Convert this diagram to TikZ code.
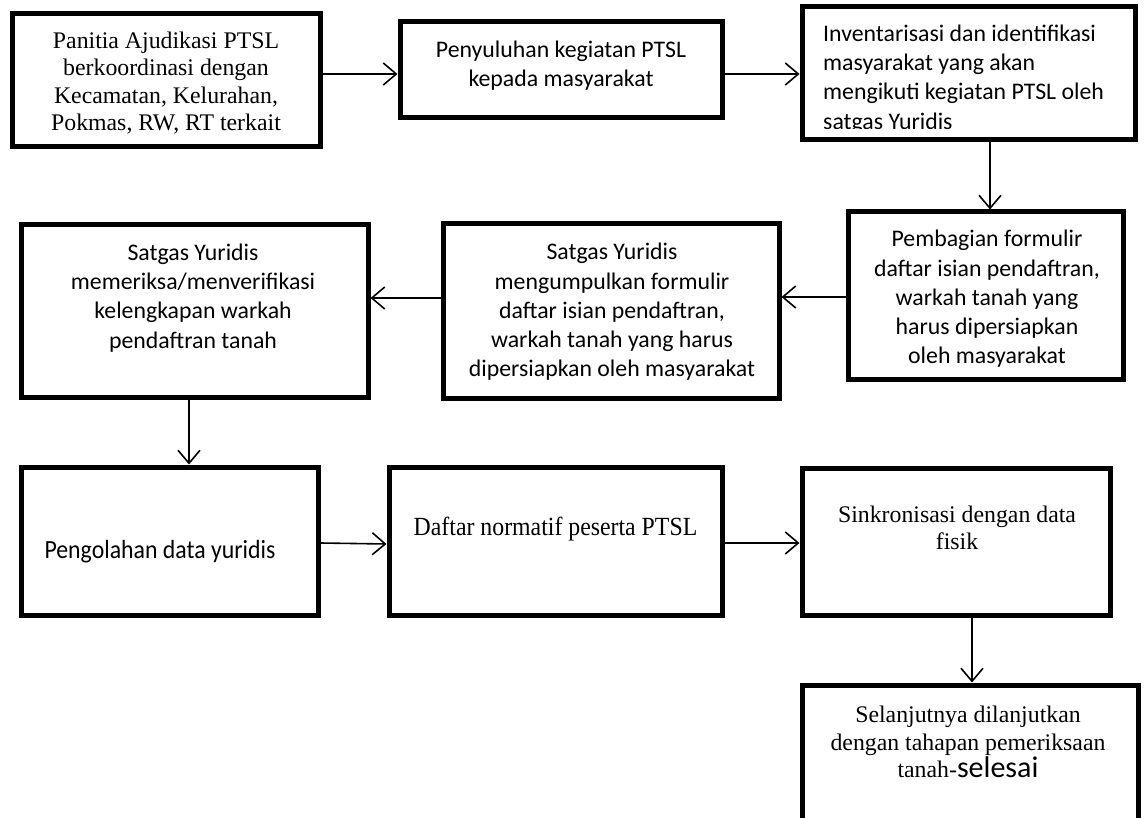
\documentclass[tikz,border=0pt]{standalone}
\usepackage{fontspec}
\setmainfont{Liberation Serif}
\newfontfamily\calib{Carlito}
\usetikzlibrary{arrows.meta}
\tikzset{
  box/.style={draw=black, line width=5pt, rectangle, inner sep=0pt, fill=white},
  tnr/.style={inner sep=0pt, align=center, font=\fontsize{23.8}{27.4}\selectfont},
  cal/.style={inner sep=0pt, align=center, font=\calib\fontsize{23.8}{29.3}\selectfont},
  arr/.style={draw=black, line width=1.6pt, -{Straight Barb[length=13pt,width=22pt,line width=1.6pt]}}
}
\begin{document}
\begin{tikzpicture}[x=1pt,y=-1pt]
\useasboundingbox (0,0) rectangle (1144,818);
\fill[white] (0,0) rectangle (1144,818);
\clip (0,0) rectangle (1144,818);
% boxes
\node[box, minimum width=308pt, minimum height=133pt] (b1) at (166,80.5) {};
\node[box, minimum width=322pt, minimum height=96pt] (b2) at (561,70) {};
\node[box, minimum width=333pt, minimum height=133pt] (b3) at (968.5,73.5) {};
\node[box, minimum width=275pt, minimum height=168pt] (b4) at (985.5,296) {};
\node[box, minimum width=336pt, minimum height=175pt] (b5) at (611,311.5) {};
\node[box, minimum width=347pt, minimum height=173pt] (b6) at (194.5,311.5) {};
\node[box, minimum width=297pt, minimum height=148pt] (b7) at (169.5,541) {};
\node[box, minimum width=333pt, minimum height=148pt] (b8) at (555.5,541) {};
\node[box, minimum width=308pt, minimum height=147pt] (b9) at (956,541.5) {};
\node[box, minimum width=336pt, minimum height=160pt] (b10) at (970,765) {};
% texts
\node[tnr] (t1) at (166,83) {Panitia Ajudikasi PTSL\\berkoordinasi dengan\\Kecamatan, Kelurahan,\\Pokmas, RW, RT terkait};
\node[cal] (t2) at (561,66) {Penyuluhan kegiatan PTSL\\kepada masyarakat};
\begin{scope}
\clip (805,10) rectangle (1132,129);
\node[cal, align=left, anchor=west] (t3) at (823,79) {Inventarisasi dan identifikasi\\masyarakat yang akan\\mengikuti kegiatan PTSL oleh\\satgas Yuridis};
\end{scope}
\node[cal] (t4) at (987,299) {Pembagian formulir\\daftar isian pendaftran,\\warkah tanah yang\\harus dipersiapkan\\oleh masyarakat};
\node[cal] (t5) at (612,312) {Satgas Yuridis\\mengumpulkan formulir\\daftar isian pendaftran,\\warkah tanah yang harus\\dipersiapkan oleh masyarakat};
\node[cal] (t6) at (193,298) {Satgas Yuridis\\memeriksa/menverifikasi\\kelengkapan warkah\\pendaftran tanah};
\node[cal] (t7) at (160,552) {\scalebox{1}[1.1]{Pengolahan data yuridis}};
\node[tnr] (t8) at (555.5,529) {\scalebox{1}[1.1]{Daftar normatif peserta PTSL}};
\node[tnr] (t9) at (957,528) {Sinkronisasi dengan data\\fisik};
\node[tnr] (t10) at (968,742) {Selanjutnya dilanjutkan\\dengan tahapan pemeriksaan\\tanah-{\calib\fontsize{30}{30}\selectfont selesai}};
% connectors
\draw[arr] (b1.east |- 0,74) -- (b2.west |- 0,74);
\draw[arr] (b2.east |- 0,74) -- (b3.west |- 0,74);
\draw[arr] (b3.south -| 990,0) -- (b4.north -| 990,0);
\draw[arr] (b4.west |- 0,297) -- (b5.east |- 0,297);
\draw[arr] (b5.west |- 0,298) -- (b6.east |- 0,298);
\draw[arr] (b6.south -| 189,0) -- (b7.north -| 189,0);
\draw[arr] (b7.east |- 0,543) -- (b8.west |- 0,544);
\draw[arr] (b8.east |- 0,543) -- (b9.west |- 0,543);
\draw[arr] (b9.south -| 972,0) -- (b10.north -| 972,0);
\end{tikzpicture}
\end{document}
